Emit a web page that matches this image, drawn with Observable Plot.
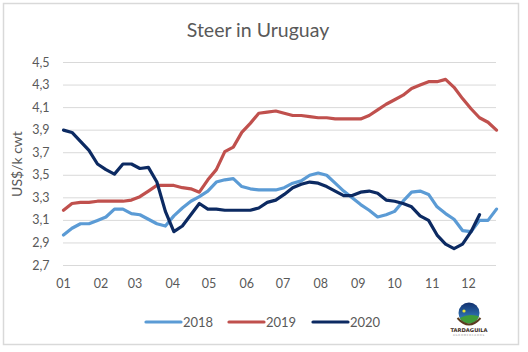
<!DOCTYPE html>
<html>
<head>
<meta charset="utf-8">
<script src="https://cdn.jsdelivr.net/npm/d3@7"></script>
<script src="https://cdn.jsdelivr.net/npm/@observablehq/plot@0.6"></script>
<style>
  html, body { margin: 0; padding: 0; background: #fff; }
  #wrap { position: relative; width: 528px; height: 352px; overflow: hidden; font-family: Lato, "Open Sans", sans-serif; }
  #wrap > svg, #wrap > div { position: absolute; left: 0; top: 0; }
  #overlay { pointer-events: none; }
</style>
</head>
<body>
<div id="wrap"></div>
<script>
// ---- data ----
const title = "Steer in Uruguay";
const yLabel = "US$/k cwt";
const series = ["2018", "2019", "2020"];
const colors = ["#5b9bd5", "#c0504d", "#0c2a62"];
const yTicks = [2.7, 2.9, 3.1, 3.3, 3.5, 3.7, 3.9, 4.1, 4.3, 4.5];
const monthLabels = ["01","02","03","04","05","06","07","08","09","10","11","12"];

// weekly values (week 1 .. 52)
const v2018 = [2.97, 3.03, 3.07, 3.07, 3.10, 3.13, 3.20, 3.20, 3.16, 3.15,
               3.11, 3.07, 3.05, 3.14, 3.21, 3.27, 3.31, 3.36, 3.44, 3.46,
               3.47, 3.40, 3.38, 3.37, 3.37, 3.37, 3.39, 3.43, 3.45, 3.50,
               3.52, 3.50, 3.43, 3.36, 3.30, 3.24, 3.19, 3.13, 3.15, 3.18,
               3.27, 3.35, 3.36, 3.33, 3.22, 3.16, 3.11, 3.01, 3.00, 3.10,
               3.10, 3.20];
const v2019 = [3.19, 3.25, 3.26, 3.26, 3.27, 3.27, 3.27, 3.27, 3.28, 3.31,
               3.36, 3.41, 3.41, 3.41, 3.39, 3.38, 3.35, 3.46, 3.55, 3.71,
               3.75, 3.88, 3.96, 4.05, 4.06, 4.07, 4.05, 4.03, 4.03, 4.02,
               4.01, 4.01, 4.00, 4.00, 4.00, 4.00, 4.03, 4.08, 4.13, 4.17,
               4.21, 4.27, 4.30, 4.33, 4.33, 4.35, 4.28, 4.18, 4.09, 4.01,
               3.97, 3.90];
const v2020 = [3.90, 3.88, 3.80, 3.72, 3.60, 3.55, 3.51, 3.60, 3.60, 3.56,
               3.57, 3.44, 3.18, 3.00, 3.05, 3.15, 3.25, 3.20, 3.20, 3.19,
               3.19, 3.19, 3.19, 3.21, 3.26, 3.28, 3.33, 3.39, 3.42, 3.44,
               3.43, 3.40, 3.36, 3.32, 3.32, 3.35, 3.36, 3.34, 3.28, 3.27,
               3.25, 3.22, 3.14, 3.10, 2.97, 2.89, 2.85, 2.89, 3.00, 3.15];

const values = [v2018, v2019, v2020];
const start = new Date(Date.UTC(2018, 0, 1));
const weekDate = i => d3.utcDay.offset(start, 7 * i);
const rows = series.flatMap((s, k) => values[k].map((v, i) => ({series: s, date: weekDate(i), value: v})));
const monthTicks = monthLabels.map((m, i) => new Date(Date.UTC(2018, i, 1)));

const chart = Plot.plot({
  width: 528,
  height: 300,
  marginLeft: 63,
  marginRight: 32,
  marginTop: 62,
  marginBottom: 35,
  style: {fontFamily: "Lato, 'Open Sans', sans-serif", fontSize: "12.5px", color: "#595959", background: "transparent"},
  x: {type: "utc", domain: [weekDate(0), weekDate(51)], ticks: monthTicks,
      tickFormat: d => monthLabels[d.getUTCMonth()], tickSize: 0, tickPadding: 14, label: null},
  y: {domain: [2.7, 4.5], ticks: yTicks, tickFormat: d => d.toFixed(1).replace(".", ","),
      tickSize: 0, tickPadding: 14, label: null},
  color: {domain: series, range: colors},
  marks: [
    Plot.gridY(yTicks, {stroke: "#d9d9d9", strokeOpacity: 1, strokeWidth: 1}),
    Plot.line(rows, {x: "date", y: "value", z: "series", stroke: "series", strokeWidth: 3.2,
                     strokeLinejoin: "round", strokeLinecap: "round"})
  ]
});

const wrap = document.getElementById("wrap");
wrap.appendChild(chart);

// ---- overlay: frame, title, axis label, legend, logo ----
const NS = "http://www.w3.org/2000/svg";
const ov = d3.select(wrap).append("svg").attr("id", "overlay")
  .attr("width", 528).attr("height", 352).attr("xmlns", NS);

ov.append("rect").attr("x", 3.5).attr("y", 3.5).attr("width", 515).attr("height", 341)
  .attr("fill", "none").attr("stroke", "#d9d9d9").attr("stroke-width", 1.5);

ov.append("text").attr("x", 258).attr("y", 37).attr("text-anchor", "middle")
  .attr("font-family", "Lato, 'Open Sans', sans-serif").attr("font-size", 19.5).attr("fill", "#595959")
  .text(title);

ov.append("text").attr("transform", "translate(22,164) rotate(-90)").attr("text-anchor", "middle")
  .attr("font-family", "Lato, 'Open Sans', sans-serif").attr("font-size", 14).attr("fill", "#595959")
  .text(yLabel);

const legendX = [146, 229, 313];
series.forEach((s, k) => {
  const g = ov.append("g").attr("transform", `translate(${legendX[k]},322)`);
  g.append("line").attr("x1", 0).attr("x2", 35).attr("y1", 0).attr("y2", 0)
    .attr("stroke", colors[k]).attr("stroke-width", 3.2).attr("stroke-linecap", "round");
  g.append("text").attr("x", 37).attr("y", 4.5)
    .attr("font-family", "Lato, 'Open Sans', sans-serif").attr("font-size", 13).attr("fill", "#595959")
    .text(s);
});

// logo
const defs = ov.append("defs");
const grad = defs.append("linearGradient").attr("id", "sky").attr("x1", 0).attr("y1", 0).attr("x2", 0).attr("y2", 1);
grad.append("stop").attr("offset", "0%").attr("stop-color", "#12306e");
grad.append("stop").attr("offset", "100%").attr("stop-color", "#3a8fd0");
defs.append("clipPath").attr("id", "logoClip").append("circle").attr("cx", 469).attr("cy", 313).attr("r", 10.5);
const logo = ov.append("g");
logo.append("circle").attr("cx", 469).attr("cy", 313).attr("r", 10.5).attr("fill", "url(#sky)");
logo.append("ellipse").attr("cx", 471).attr("cy", 324).attr("rx", 15).attr("ry", 9)
  .attr("fill", "#3f9b3a").attr("clip-path", "url(#logoClip)");
logo.append("circle").attr("cx", 464).attr("cy", 311).attr("r", 1.6).attr("fill", "#e8e23a");
logo.append("path").attr("d", "M457.5,318 Q469,331 480.5,318").attr("fill", "none")
  .attr("stroke", "#5a3b1e").attr("stroke-width", 2);
logo.append("text").attr("x", 469).attr("y", 331.5).attr("text-anchor", "middle")
  .attr("font-family", "'DejaVu Sans', sans-serif").attr("font-weight", "bold").attr("font-size", 5.2)
  .attr("fill", "#3a2a1a").text("TARDAGUILA");
logo.append("text").attr("x", 469).attr("y", 336).attr("text-anchor", "middle")
  .attr("font-family", "'DejaVu Sans', sans-serif").attr("font-size", 2.6)
  .attr("fill", "#999").attr("letter-spacing", 0.8).text("AGROMERCADOS");
</script>
</body>
</html>
